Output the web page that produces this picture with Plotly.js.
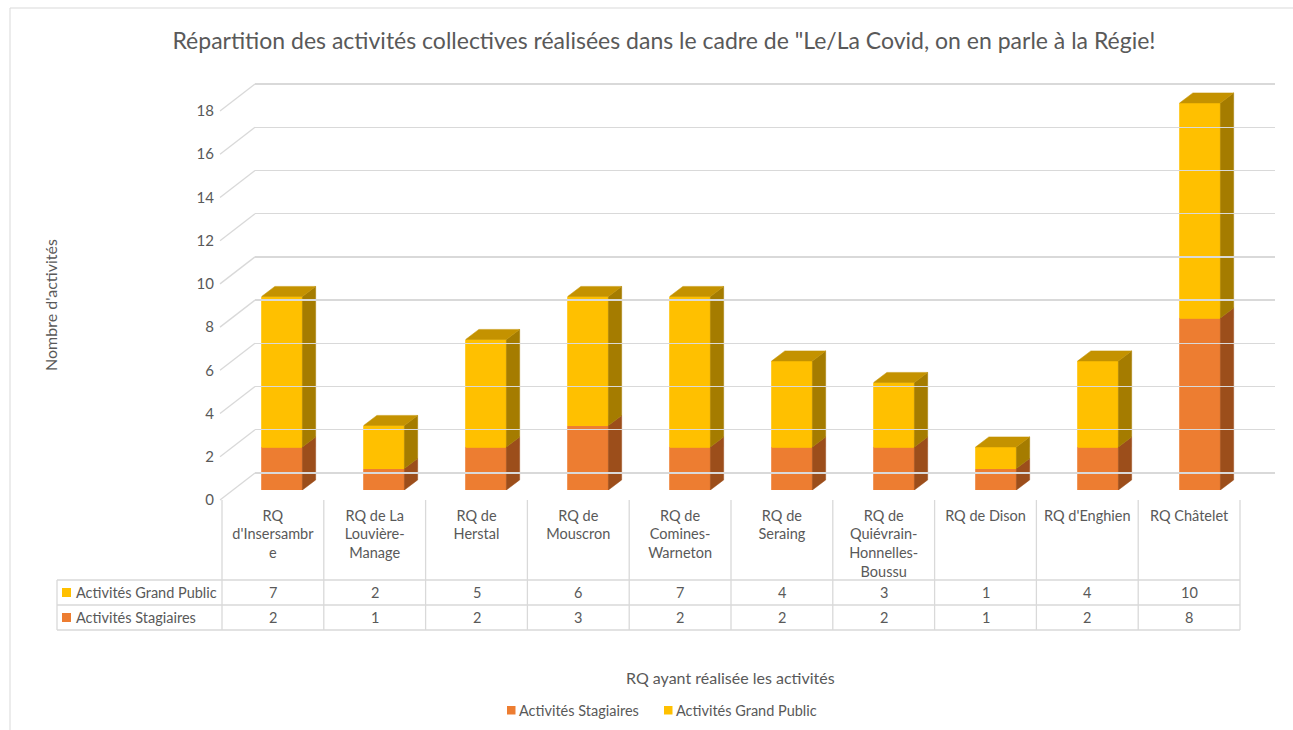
<!DOCTYPE html>
<html>
<head>
<meta charset="utf-8">
<script src="https://cdn.plot.ly/plotly-3.0.1.min.js"></script>
<style>html,body{margin:0;padding:0;background:#fff;}#chart{width:1293px;height:730px;}</style>
</head>
<body>
<div id="chart"></div>
<script>
// ---------- data ----------
const categories = [
  "RQ<br>d'Insersambr<br>e",
  "RQ de La<br>Louvière-<br>Manage",
  "RQ de<br>Herstal",
  "RQ de<br>Mouscron",
  "RQ de<br>Comines-<br>Warneton",
  "RQ de<br>Seraing",
  "RQ de<br>Quiévrain-<br>Honnelles-<br>Boussu",
  "RQ de Dison",
  "RQ d'Enghien",
  "RQ Châtelet"
];
const stagiaires   = [2, 1, 2, 3, 2, 2, 2, 1, 2, 8];
const grandPublic  = [7, 2, 5, 6, 7, 4, 3, 1, 4, 10];
const seriesNames  = ["Activités Stagiaires", "Activités Grand Public"];
const yTicks       = [0, 2, 4, 6, 8, 10, 12, 14, 16, 18];

// ---------- styling ----------
const W = 1293, H = 730;
const fx = p => p / W;
const fy = p => 1 - p / H;
const FONT = "Lato, 'Liberation Sans', sans-serif";
const TXT = "#595959";
const GRID = "#D9D9D9";
const COL = {
  stag:  {front: "#ED7D31", side: "#9C4E1B", top: "#C0652A"},
  gp:    {front: "#FFC000", side: "#A57C00", top: "#C49200"}
};
const BARW = 0.4, DX = 0.13, DY = 0.47;

const idx = categories.map((_, i) => i);
const traces = [];

// front faces (stacked bars)
traces.push({type: "bar", x: idx, y: stagiaires, name: seriesNames[0],
  marker: {color: COL.stag.front, line: {width: 0.8, color: COL.stag.front}}, width: BARW, hoverinfo: "skip", showlegend: false});
traces.push({type: "bar", x: idx, y: grandPublic, name: seriesNames[1],
  marker: {color: COL.gp.front, line: {width: 0.8, color: COL.gp.front}}, width: BARW, hoverinfo: "skip", showlegend: false});

// 3D side / top faces derived from data
function poly(xs, ys, color) {
  traces.push({type: "scatter", mode: "lines", x: xs.concat([xs[0]]), y: ys.concat([ys[0]]),
    fill: "toself", fillcolor: color, line: {width: 0.5, color: color},
    showlegend: false, hoverinfo: "skip"});
}
idx.forEach(i => {
  const segs = [[0, stagiaires[i], COL.stag], [stagiaires[i], stagiaires[i] + grandPublic[i], COL.gp]];
  const xr = i + BARW / 2, xl = i - BARW / 2;
  segs.forEach(([b, t, c]) => {
    poly([xr, xr + DX, xr + DX, xr], [b, b + DY, t + DY, t], c.side);
  });
  const top = stagiaires[i] + grandPublic[i];
  poly([xl, xl + DX, xr + DX, xr], [top, top + DY, top + DY, top], COL.gp.top);
});

// dummy traces to create back-wall and label subplots
traces.push({type: "scatter", x: [], y: [], xaxis: "x2", yaxis: "y2", showlegend: false, hoverinfo: "skip"});
traces.push({type: "scatter", x: [], y: [], xaxis: "x3", yaxis: "y3", showlegend: false, hoverinfo: "skip"});

// ---------- geometry ----------
const Y0 = 490, PXU = 21.5, YMAX = 19.5;
const backBottom = 473, backTop = 84;
const BPU = (backBottom - backTop) / 18, PAD = 0.3;
const lblShift = 27;
const tableL = 222, tableR = 1240, headL = 57;
const rowTop = 580, rowMid = 605, rowBot = 630, headTop = 500;
const colW = (tableR - tableL) / categories.length;

const shapes = [];
// chart border
shapes.push({type: "rect", xref: "paper", yref: "paper", x0: fx(10), x1: fx(1300), y0: fy(740), y1: fy(8),
  line: {color: GRID, width: 1}, layer: "below"});
// side wall diagonals
yTicks.forEach(v => {
  const back = backBottom - v * BPU;
  shapes.push({type: "line", xref: "paper", yref: "paper",
    x0: fx(220), y0: fy(back + lblShift), x1: fx(255), y1: fy(back),
    line: {color: GRID, width: 1.3}, layer: "below"});
});
// table lines
for (let k = 0; k <= categories.length; k++) {
  const xp = tableL + k * colW;
  shapes.push({type: "line", xref: "paper", yref: "paper", x0: fx(xp), x1: fx(xp), y0: fy(headTop), y1: fy(rowBot),
    line: {color: GRID, width: 1.3}});
}
[rowTop, rowMid, rowBot].forEach(yp => {
  shapes.push({type: "line", xref: "paper", yref: "paper", x0: fx(headL), x1: fx(tableR), y0: fy(yp), y1: fy(yp),
    line: {color: GRID, width: 1.3}});
});
shapes.push({type: "line", xref: "paper", yref: "paper", x0: fx(headL), x1: fx(headL), y0: fy(rowTop), y1: fy(rowBot),
  line: {color: GRID, width: 1.3}});
// legend keys in table
[[rowTop, rowMid, COL.gp.front], [rowMid, rowBot, COL.stag.front]].forEach(([a, b, c]) => {
  const m = (a + b) / 2;
  shapes.push({type: "rect", xref: "paper", yref: "paper", x0: fx(62), x1: fx(71), y0: fy(m + 4.5), y1: fy(m - 4.5),
    fillcolor: c, line: {width: 0}});
});
// bottom legend keys
const legY = 710;
[[507, COL.stag.front], [664, COL.gp.front]].forEach(([xp, c]) => {
  shapes.push({type: "rect", xref: "paper", yref: "paper", x0: fx(xp), x1: fx(xp + 8.5), y0: fy(legY + 4.5), y1: fy(legY - 4),
    fillcolor: c, line: {width: 0}});
});

const annotations = [];
const rowDefs = [[seriesNames[1], grandPublic, (rowTop + rowMid) / 2], [seriesNames[0], stagiaires, (rowMid + rowBot) / 2]];
rowDefs.forEach(([name, vals, m]) => {
  annotations.push({xref: "paper", yref: "paper", x: fx(74), y: fy(m), xanchor: "left", yanchor: "middle",
    text: name, showarrow: false, font: {family: FONT, size: 14.5, color: TXT}});
  vals.forEach((v, i) => {
    annotations.push({xref: "x3", yref: "paper", x: i, y: fy(m), xanchor: "center", yanchor: "middle",
      text: String(v), showarrow: false, font: {family: FONT, size: 14.5, color: TXT}});
  });
});
annotations.push({xref: "paper", yref: "paper", x: fx(50), y: fy(305), textangle: -90, showarrow: false,
  text: "Nombre d'activités", font: {family: FONT, size: 16, color: TXT}, xanchor: "center", yanchor: "middle"});
annotations.push({xref: "paper", yref: "paper", x: fx(730), y: fy(677), showarrow: false,
  text: "RQ ayant réalisée les activités", font: {family: FONT, size: 16, color: TXT}, xanchor: "center", yanchor: "middle"});
annotations.push({xref: "paper", yref: "paper", x: fx(517), y: fy(legY), showarrow: false, xanchor: "left", yanchor: "middle",
  text: seriesNames[0], font: {family: FONT, size: 14.5, color: TXT}});
annotations.push({xref: "paper", yref: "paper", x: fx(674), y: fy(legY), showarrow: false, xanchor: "left", yanchor: "middle",
  text: seriesNames[1], font: {family: FONT, size: 14.5, color: TXT}});

const layout = {
  width: W, height: H,
  margin: {l: 0, r: 0, t: 0, b: 0},
  paper_bgcolor: "#fff", plot_bgcolor: "rgba(0,0,0,0)",
  barmode: "stack",
  font: {family: FONT, color: TXT},
  title: {text: "Répartition des activités collectives réalisées dans le cadre de \"Le/La Covid, on en parle à la Régie!",
    x: fx(664), xanchor: "center", y: fy(41), yanchor: "middle", font: {family: FONT, size: 23, color: TXT}},
  xaxis: {domain: [fx(231), fx(1251)], range: [-0.5, 9.5], visible: false, fixedrange: true},
  yaxis: {domain: [fy(Y0), fy(Y0 - YMAX * PXU)], range: [0, YMAX], visible: false, fixedrange: true},
  xaxis2: {domain: [fx(255), fx(1275)], range: [0, 1], visible: false, anchor: "y2"},
  yaxis2: {domain: [fy(backBottom + PAD * BPU), fy(backTop - PAD * BPU)], range: [-PAD, 18 + PAD], anchor: "x2",
    tickvals: yTicks, showticklabels: false, showgrid: true, gridcolor: GRID, gridwidth: 1.3,
    zeroline: false, showline: false, ticks: ""},
  xaxis3: {domain: [fx(tableL), fx(tableR)], range: [-0.5, 9.5], anchor: "y3",
    tickvals: idx, ticktext: categories, ticks: "", showgrid: false, zeroline: false, showline: false,
    ticklabelstandoff: 5,
    tickfont: {family: FONT, size: 14.5, color: TXT}},
  yaxis3: {domain: [fy(backBottom + lblShift), fy(backTop + lblShift)], range: [0, 18], anchor: "free", position: fx(214),
    tickvals: yTicks, ticks: "", showgrid: false, zeroline: false, showline: false,
    tickfont: {family: FONT, size: 15, color: TXT}},
  showlegend: false,
  shapes: shapes,
  annotations: annotations
};

Plotly.newPlot("chart", traces, layout, {staticPlot: true});
</script>
</body>
</html>
